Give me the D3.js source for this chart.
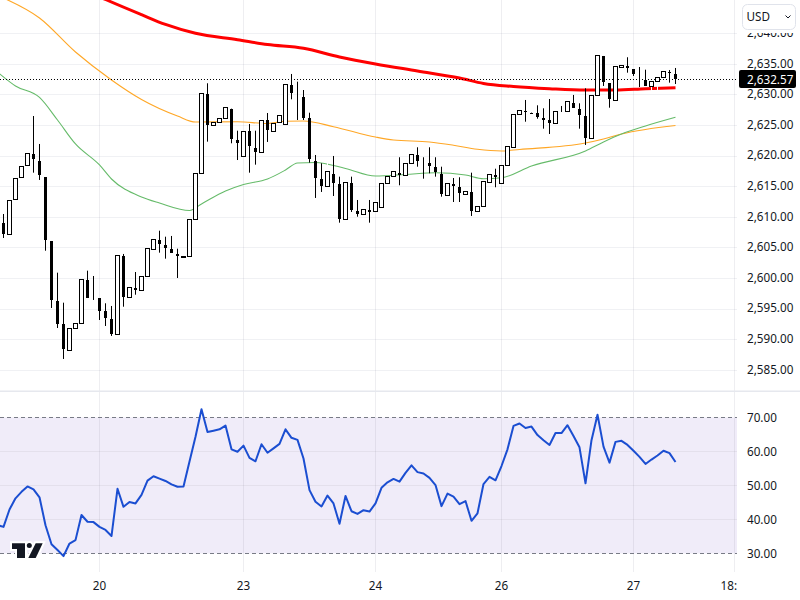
<!DOCTYPE html>
<html>
<head>
<meta charset="utf-8">
<script src="https://cdn.jsdelivr.net/npm/d3@7"></script>
<style>
	html, body { margin: 0; padding: 0; background: #fff; }
	svg { display: block; }
	text { font-family: "Noto Sans", sans-serif; font-size: 11.7px; fill: #131722; }
	.axis path, .axis line { display: none; }
</style>
</head>
<body>
<div id="viz"></div>
<script>
// candles, one per 4h bar
var opens = [2609.12,2607.23,2612.94,2616.54,2618.50,2620.34,2619.20,2616.54,2606.13,2596.32,2592.57,2588.20,2591.80,2592.61,2599.75,2598.40,2596.81,2594.69,2593.34,2590.82,2603.68,2596.93,2598.50,2598.07,2600.29,2604.77,2606.29,2605.47,2604.82,2604.01,2603.58,2603.63,2609.68,2617.19,2630.10,2625.03,2625.46,2626.11,2627.75,2622.63,2619.90,2624.05,2621.28,2620.56,2625.90,2623.99,2625.46,2625.25,2631.62,2630.00,2629.71,2626.23,2619.20,2616.26,2615.00,2617.08,2615.44,2609.68,2615.66,2611.03,2610.49,2611.20,2610.92,2611.64,2615.56,2616.70,2617.24,2616.87,2618.83,2620.18,2618.00,2618.88,2618.17,2617.03,2613.60,2615.44,2614.95,2613.76,2614.14,2610.98,2611.74,2615.72,2616.91,2615.56,2618.50,2621.44,2626.83,2627.32,2627.12,2627.09,2626.23,2625.85,2625.30,2627.70,2627.26,2628.68,2627.70,2626.56,2622.85,2629.94,2636.36,2631.90,2629.06,2634.45,2634.68,2634.19,2633.00,2632.44,2631.34,2632.23,2632.81,2633.82,2633.42];
var closes = [2607.27,2612.72,2616.37,2618.27,2620.46,2619.58,2616.96,2606.29,2596.49,2592.57,2588.48,2591.86,2592.68,2599.87,2596.81,2598.40,2594.74,2593.55,2590.93,2603.79,2597.03,2598.56,2598.17,2600.36,2604.94,2606.41,2605.69,2605.04,2604.22,2603.68,2603.67,2609.68,2617.19,2630.26,2625.08,2625.46,2626.11,2627.98,2622.85,2622.09,2624.05,2621.54,2620.67,2625.82,2624.27,2625.36,2626.67,2631.78,2630.36,2630.00,2626.34,2619.58,2616.42,2615.12,2617.52,2615.56,2609.77,2615.72,2611.20,2610.54,2611.31,2610.87,2612.45,2615.56,2616.70,2617.52,2616.91,2618.83,2620.30,2619.25,2618.00,2618.38,2617.29,2613.70,2615.56,2615.12,2614.02,2614.25,2611.08,2611.74,2615.82,2617.03,2616.59,2618.50,2621.65,2626.83,2627.42,2627.09,2627.06,2626.39,2625.95,2625.41,2627.32,2627.70,2628.84,2627.91,2626.72,2622.96,2629.94,2636.47,2632.16,2629.33,2634.68,2634.84,2634.40,2633.42,2633.00,2631.46,2632.23,2632.81,2633.86,2633.76,2632.57];
var highs = [2610.54,2612.72,2616.37,2618.27,2620.46,2626.55,2621.98,2616.54,2606.13,2600.95,2596.05,2591.86,2592.68,2599.87,2601.28,2600.41,2596.81,2595.95,2595.51,2603.79,2604.01,2598.56,2601.06,2600.36,2604.94,2606.41,2607.81,2606.83,2606.95,2604.87,2603.67,2609.68,2617.19,2630.26,2631.90,2625.46,2626.11,2627.98,2627.75,2624.15,2624.05,2625.25,2624.15,2625.82,2627.04,2625.36,2626.67,2631.78,2633.42,2632.16,2630.80,2627.09,2620.18,2618.83,2619.04,2620.02,2616.64,2615.72,2616.64,2612.83,2611.31,2612.83,2612.45,2615.56,2616.70,2617.52,2619.81,2618.83,2620.30,2621.44,2619.81,2621.44,2619.81,2618.27,2615.56,2616.42,2616.54,2614.25,2617.29,2611.74,2615.82,2617.03,2617.94,2618.50,2621.65,2626.83,2627.42,2629.17,2627.12,2628.30,2627.81,2629.33,2627.32,2628.19,2628.84,2629.99,2628.63,2631.08,2629.94,2636.47,2636.36,2631.90,2634.68,2634.84,2636.15,2634.19,2634.56,2634.12,2632.23,2632.81,2633.86,2634.07,2634.40];
var lows = [2606.62,2607.23,2612.94,2616.54,2618.50,2617.29,2616.10,2604.54,2595.18,2591.91,2586.85,2588.20,2591.80,2592.61,2596.81,2596.49,2593.22,2592.24,2590.61,2590.82,2595.39,2596.93,2597.35,2598.07,2600.29,2604.77,2604.22,2603.24,2604.22,2600.08,2603.58,2603.63,2609.68,2617.19,2622.36,2625.03,2625.46,2626.11,2622.09,2619.36,2619.90,2617.29,2618.60,2620.56,2622.31,2623.99,2625.46,2625.25,2629.28,2625.90,2625.90,2618.93,2613.16,2614.14,2615.00,2613.48,2609.12,2609.68,2610.87,2610.10,2610.49,2609.12,2610.92,2611.64,2615.56,2616.70,2615.23,2616.87,2618.83,2618.27,2616.31,2617.19,2616.64,2613.37,2613.60,2612.50,2612.50,2613.76,2610.22,2610.98,2611.74,2615.72,2614.91,2615.56,2618.50,2621.44,2626.83,2625.62,2627.06,2626.11,2624.48,2623.61,2625.30,2627.21,2627.26,2627.91,2624.48,2621.82,2622.85,2629.94,2631.46,2627.91,2629.06,2634.45,2633.63,2633.09,2631.29,2631.46,2630.64,2630.64,2632.81,2632.00,2631.78];

var slowBars = [10,17,23,27,32,39,44,50,56,62,69,76,80,85,91,97,102,107,112];
var slowVals = [2648.78,2645.59,2643.11,2641.52,2640.07,2639.02,2638.24,2637.62,2636.20,2635.05,2633.91,2632.76,2631.87,2631.38,2631.02,2630.80,2630.80,2631.02,2631.18];
var midBars = [0,6,12,18,23,29,32,39,44,47,50,55,62,65,71,75,79,83,86,97,100,103,112];
var midVals = [2645.83,2642.57,2637.01,2632.44,2629.25,2626.55,2625.57,2625.62,2625.33,2625.69,2625.74,2624.81,2623.12,2622.63,2622.31,2621.77,2621.11,2620.84,2621.08,2622.14,2622.80,2623.61,2625.00];
var fastBars = [-1,2,6,9,12,16,18,23,26,31,33,37,40,44,47,49,52,57,62,67,72,77,80,83,88,97,100,103,107,112];
var fastVals = [2633.74,2631.46,2629.58,2625.90,2621.98,2618.55,2616.26,2613.32,2612.34,2611.11,2612.18,2614.30,2615.36,2616.26,2617.73,2618.88,2618.96,2617.98,2616.75,2617.00,2617.29,2616.91,2616.31,2616.46,2618.38,2620.84,2622.31,2623.61,2624.92,2626.34];

// rsi starts one bar left of the first whole candle
var rsiVals = [38.3,37.8,42.9,46.2,48.1,49.7,48.8,46.5,38.3,32.7,31,29.2,32.9,33.9,41.3,39.3,39.2,37.8,36.9,35.1,49,43.7,45.1,44.7,47.2,51.4,52.7,52,51.3,50.3,49.6,49.7,57,64.3,72.4,65.7,66.1,66.5,67.6,60.6,59.9,61.7,58.1,57.1,62.1,59.6,60.9,62.2,66.5,64,63.4,57.9,48.6,45.2,43.8,47,44.7,38.7,46.9,42.4,41.6,42.7,42.3,44.7,49.3,50.9,51.9,51.1,53.7,55.9,53.9,53.5,52.2,50.1,43.9,47.6,46.7,44.5,45.4,39.6,41.8,50.4,52.5,51.5,55.7,60.6,67.5,68.2,66.9,67.3,64.8,63.3,61.9,65.4,65.4,67.7,64.5,61.2,50.6,63.3,70.8,61.4,56.7,62.8,63.1,61.9,60.2,58.4,56.3,57.6,58.8,60.2,59.5,56.9];

var priceTicks = [2585,2590,2595,2600,2605,2610,2615,2620,2625,2630,2635,2640];
var rsiTicks = [30,40,50,60,70];
var timeBars = [16,40,62,83,105,122];
var timeLabels = ["20","23","24","26","27","18:00"];
var lastPrice = 2632.57;
var currency = "USD";

var width = 800, height = 600;
var paneRight = 737, mainBottom = 390, rsiTop = 392, rsiBottom = 572, axisX = 747;
var gridColor = "#f0f1f4", rsiGridColor = "#e4e0ec";

var x = d3.scaleLinear().domain([0,112]).range([3.5,675.5]);
var y = d3.scaleLinear().domain([2585,2635]).range([370.3,64.3]);
var yRsi = d3.scaleLinear().domain([30,70]).range([553.4,417.4]);
var snap = function(v){ return Math.floor(v)+0.5; };

var svg = d3.select("#viz").append("svg").attr("width",width).attr("height",height);

var defs = svg.append("defs");
defs.append("clipPath").attr("id","mainClip").append("rect")
	.attr("width",paneRight).attr("height",mainBottom);
defs.append("clipPath").attr("id","rsiClip").append("rect")
	.attr("y",rsiTop).attr("width",paneRight).attr("height",rsiBottom-rsiTop);
defs.append("clipPath").attr("id","timeClip").append("rect")
	.attr("y",rsiBottom).attr("width",paneRight).attr("height",height-rsiBottom);
defs.append("clipPath").attr("id","logoClip").append("rect")
	.attr("y",530).attr("width",60).attr("height",28);

// grid
var grid = svg.append("g");
grid.selectAll(".hgrid").data(priceTicks).enter().append("line")
	.attr("x1",0).attr("x2",paneRight)
	.attr("y1",function(d){return snap(y(d))}).attr("y2",function(d){return snap(y(d))})
	.style("stroke",gridColor);
grid.append("rect")
	.attr("x",0).attr("width",paneRight)
	.attr("y",yRsi(70)).attr("height",yRsi(30)-yRsi(70))
	.style("fill","#f0ecf9");
grid.selectAll(".rgrid").data(rsiTicks.slice(1,4)).enter().append("line")
	.attr("x1",0).attr("x2",paneRight)
	.attr("y1",function(d){return snap(yRsi(d))}).attr("y2",function(d){return snap(yRsi(d))})
	.style("stroke",rsiGridColor);
grid.selectAll(".vgrid").data(timeBars).enter().append("line")
	.attr("x1",function(d){return snap(x(d)-0.5)}).attr("x2",function(d){return snap(x(d)-0.5)})
	.attr("y1",0).attr("y2",rsiBottom)
	.style("stroke","rgba(120,123,150,0.13)");
grid.selectAll(".dash").data([30,70]).enter().append("line")
	.attr("x1",0).attr("x2",paneRight)
	.attr("y1",function(d){return snap(yRsi(d))}).attr("y2",function(d){return snap(yRsi(d))})
	.style("stroke","#787b86").style("stroke-dasharray","4,3");
svg.append("rect").attr("x",0).attr("y",390.5).attr("width",width).attr("height",1.5).style("fill","#e6e8ee");

// moving averages sit under the candles
var main = svg.append("g").attr("clip-path","url(#mainClip)");
var maLine = d3.line()
	.x(function(d){return x(d[0])})
	.y(function(d){return y(d[1])})
	.curve(d3.curveMonotoneX);
var drawMa = function(bars,vals,color,w){
	main.append("path")
		.attr("d",maLine(d3.zip(bars,vals)))
		.style("fill","none").style("stroke",color).style("stroke-width",w);
};
drawMa(midBars,midVals,"#ffa726",1.1);
drawMa(fastBars,fastVals,"#66bb6a",1.1);
drawMa(slowBars,slowVals,"#ff0000",3);

main.append("line")
	.attr("x1",0).attr("x2",paneRight)
	.attr("y1",snap(y(lastPrice))).attr("y2",snap(y(lastPrice)))
	.style("stroke","#000").style("stroke-dasharray","1,2");

// candles, up wicks are white
main.selectAll(".wick").data(opens).enter().append("line")
	.attr("class","wick")
	.attr("x1",function(d,i){return x(i)}).attr("x2",function(d,i){return x(i)})
	.attr("y1",function(d,i){return y(highs[i])}).attr("y2",function(d,i){return y(lows[i])})
	.style("stroke",function(d,i){return closes[i]>d ? "#fff" : "#000"});
opens.forEach(function(o,i){
	var c = closes[i];
	if(o===c) return;
	var top = y(Math.max(o,c)), bot = y(Math.min(o,c));
	if(c>o){
		main.append("rect")
			.attr("x",x(i)-2).attr("width",4)
			.attr("y",snap(top)).attr("height",Math.max(1,Math.round(bot-top)))
			.style("fill","#fff").style("stroke","#000");
	}else{
		main.append("rect")
			.attr("x",x(i)-1.5).attr("width",3)
			.attr("y",Math.round(top)).attr("height",Math.max(1,Math.round(bot-top)))
			.style("fill","#000");
	}
});

// rsi
var rsiLine = d3.line()
	.x(function(d,i){return x(i-1)})
	.y(function(d){return yRsi(d)});
svg.append("g").attr("clip-path","url(#rsiClip)").append("path")
	.attr("d",rsiLine(rsiVals))
	.style("fill","none").style("stroke","#1b4ed1").style("stroke-width",2).style("stroke-linejoin","round");

// axes
var priceAxis = d3.axisRight(y).tickValues(priceTicks).tickFormat(d3.format(",.2f")).tickSize(0).tickPadding(0);
svg.append("g").attr("class","axis").attr("transform","translate("+axisX+",-1)").call(priceAxis);
var rsiAxis = d3.axisRight(yRsi).tickValues(rsiTicks).tickFormat(d3.format(".2f")).tickSize(0).tickPadding(0);
svg.append("g").attr("class","axis").attr("transform","translate("+axisX+",0)").call(rsiAxis);
var timeAxis = d3.axisBottom(x).tickValues(timeBars)
	.tickFormat(function(d,i){return timeLabels[i]}).tickSize(0).tickPadding(0);
svg.append("g").attr("clip-path","url(#timeClip)").append("g").attr("class","axis")
	.attr("transform","translate(-0.5,582)").call(timeAxis);
svg.selectAll(".axis text").style("font-size","11.7px").style("font-family",'"Noto Sans", sans-serif');

// currency button and last price tag
svg.append("rect").attr("x",738).attr("y",0).attr("width",62).attr("height",33).style("fill","#fff");
svg.append("rect").attr("x",742.5).attr("y",4.5).attr("width",53).attr("height",25).attr("rx",5)
	.style("fill","#fff").style("stroke","#e0e3eb");
svg.append("text").attr("x",746.5).attr("y",21).text(currency);
svg.append("path").attr("d","M785.5 15.5 L788 18 L790.5 15.5")
	.style("fill","none").style("stroke","#131722").style("stroke-width",1);
svg.append("rect").attr("x",739).attr("y",70).attr("width",57).attr("height",18).attr("rx",2).style("fill","#000");
svg.append("text").attr("x",747).attr("y",83.5).style("fill","#fff").text(d3.format(",.2f")(lastPrice));

// logo, white halo then dark shape
var logo = svg.append("g").attr("clip-path","url(#logoClip)");
var logoPaths = ["M12 543.3H25V558H17V549H12Z","M35.7 543.3H42.7L35.7 558H28.3Z"];
var drawLogo = function(color,halo){
	logoPaths.forEach(function(p){
		logo.append("path").attr("d",p).style("fill",color).style("stroke",color).style("stroke-width",halo);
	});
	logo.append("circle").attr("cx",29.3).attr("cy",545.6).attr("r",2.5)
		.style("fill",color).style("stroke",color).style("stroke-width",halo);
};
drawLogo("#fff",4);
drawLogo("#131722",0);
</script>
</body>
</html>
